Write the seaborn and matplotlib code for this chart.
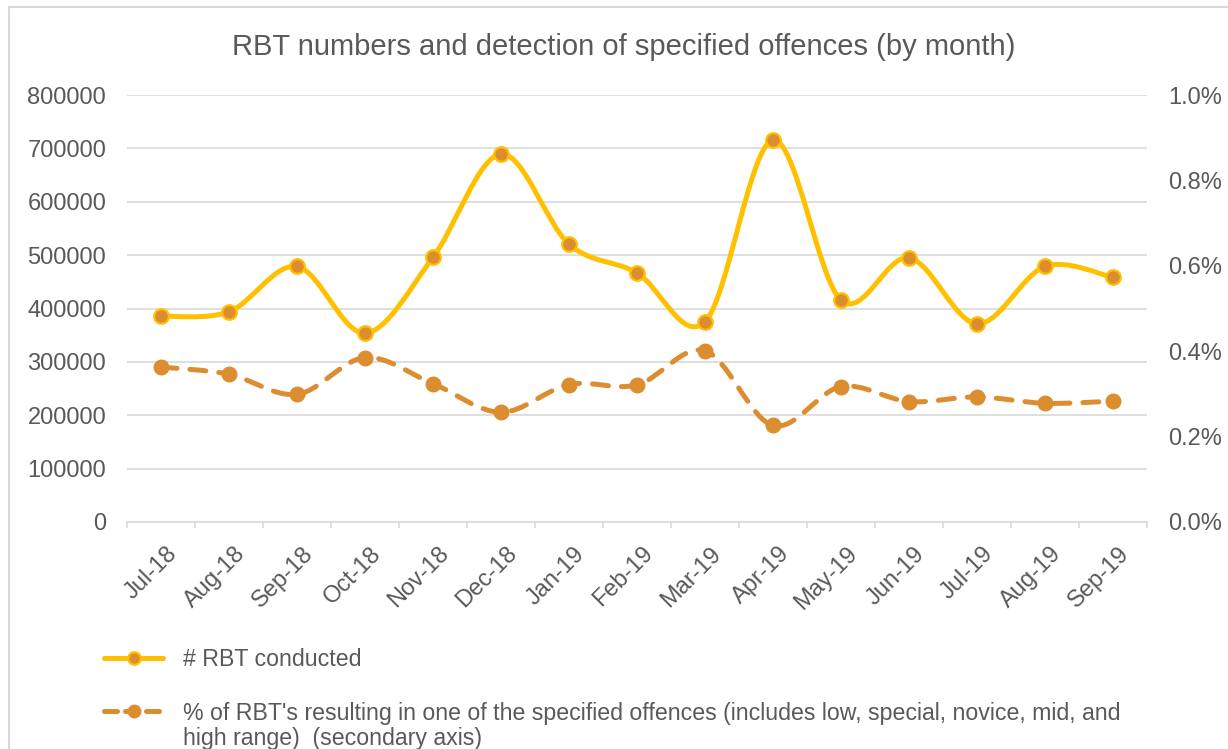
"""RBT numbers and detection of specified offences, by month."""

import matplotlib.pyplot as plt
import numpy as np
import seaborn as sns
from matplotlib.lines import Line2D
from matplotlib.patches import PathPatch, Rectangle
from matplotlib.path import Path
from matplotlib.ticker import FuncFormatter, MultipleLocator
from matplotlib.transforms import ScaledTranslation

months = [
    "Jul-18", "Aug-18", "Sep-18", "Oct-18", "Nov-18", "Dec-18", "Jan-19", "Feb-19",
    "Mar-19", "Apr-19", "May-19", "Jun-19", "Jul-19", "Aug-19", "Sep-19",
]
rbt_conducted = [
    385600, 393800, 478700, 353800, 496000, 689300, 520600, 466800,
    375000, 715600, 415600, 495000, 371300, 478800, 458400,
]
# percent of RBTs resulting in a specified offence (secondary axis)
offence_pct = [
    0.363, 0.346, 0.299, 0.385, 0.324, 0.257, 0.322, 0.321,
    0.401, 0.226, 0.317, 0.282, 0.293, 0.278, 0.283,
]

YELLOW = "#FFC000"
ORANGE = "#DC8D30"
GREY_TEXT = "#595959"
GRID = "#D9D9D9"
DASH = (0, (3.2, 2.6))


def smooth_path(xs, ys):
    """Excel-style smoothed line: cubic Bezier through every point."""
    pts = np.column_stack([xs, ys]).astype(float)
    n = len(pts)
    verts = [pts[0]]
    codes = [Path.MOVETO]
    for i in range(n - 1):
        p0 = pts[max(i - 1, 0)]
        p1 = pts[i]
        p2 = pts[i + 1]
        p3 = pts[min(i + 2, n - 1)]
        verts += [p1 + (p2 - p0) / 6, p2 - (p3 - p1) / 6, p2]
        codes += [Path.CURVE4] * 3
    return Path(verts, codes)


sns.set_theme(style="white")
plt.rcParams["font.family"] = ["Liberation Sans", "DejaVu Sans"]
plt.rcParams["text.color"] = GREY_TEXT

fig = plt.figure(figsize=(12.28, 7.49), dpi=100)
ax = fig.add_axes([127 / 1228, 1 - 522 / 749, 1020 / 1228, 427 / 749])
ax2 = ax.twinx()

x = np.arange(len(months))

# primary series
ax.add_patch(PathPatch(smooth_path(x, rbt_conducted), fill=False, ec=YELLOW,
                       lw=3.6, capstyle="round", joinstyle="round", zorder=3))
sns.scatterplot(x=x, y=rbt_conducted, ax=ax, s=110, color=ORANGE,
                edgecolor=YELLOW, linewidth=1.6, zorder=4, legend=False)

# secondary series
ax2.add_patch(PathPatch(smooth_path(x, offence_pct), fill=False, ec=ORANGE,
                        lw=3.6, linestyle=DASH, capstyle="round",
                        joinstyle="round", zorder=3))
sns.scatterplot(x=x, y=offence_pct, ax=ax2, s=110, color=ORANGE,
                edgecolor=ORANGE, linewidth=1.0, zorder=4, legend=False)

ax.set_xlim(-0.5, len(months) - 0.5)
ax.set_ylim(0, 800000)
ax.yaxis.set_major_locator(MultipleLocator(100000))
ax2.set_ylim(0, 1.0)
ax2.yaxis.set_major_locator(MultipleLocator(0.2))
ax2.yaxis.set_major_formatter(FuncFormatter(lambda v, _: f"{v:.1f}%"))

ax.set_xticks(x)
ax.set_xticklabels(months, rotation=45, ha="right", rotation_mode="anchor")
ax.set_xticks(np.arange(-0.5, len(months)), minor=True)
ax.tick_params(axis="x", which="major", length=0, pad=12, labelsize=17,
               labelcolor=GREY_TEXT)
ax.tick_params(axis="x", which="minor", length=4.5, width=1.2, color=GRID,
               direction="out", bottom=True)
ax.tick_params(axis="y", length=0, pad=15, labelsize=17, labelcolor=GREY_TEXT)
ax2.tick_params(axis="y", length=0, pad=15, labelsize=17, labelcolor=GREY_TEXT)
shift = ScaledTranslation(0.05, -0.04, fig.dpi_scale_trans)
for lbl in ax.get_xticklabels():
    lbl.set_transform(lbl.get_transform() + shift)

ax.grid(axis="y", color=GRID, lw=1.2)
ax.set_axisbelow(True)
for a in (ax, ax2):
    for side in ("top", "left", "right", "bottom"):
        a.spines[side].set_visible(False)
ax.spines["bottom"].set_visible(True)
ax.spines["bottom"].set_color(GRID)
ax.spines["bottom"].set_linewidth(1.2)
ax.set_xlabel("")
ax.set_ylabel("")
ax2.set_ylabel("")

fig.text(624 / 1228, 1 - 47 / 749,
         "RBT numbers and detection of specified offences (by month)",
         ha="center", va="center", fontsize=21, color=GREY_TEXT)

handles = [
    Line2D([], [], color=YELLOW, lw=3.6, marker="o", markersize=9,
           markerfacecolor=ORANGE, markeredgecolor=YELLOW, markeredgewidth=1.6,
           solid_capstyle="round"),
    Line2D([], [], color=ORANGE, lw=3.6, linestyle=(0, (2.6, 1.6)), marker="o",
           markersize=9, markerfacecolor=ORANGE, markeredgecolor=ORANGE,
           dash_capstyle="round"),
]
labels = [
    "# RBT conducted",
    "% of RBT's resulting in one of the specified offences (includes low, special, novice, mid, and",
]
fig.legend(handles, labels, loc="upper left",
           bbox_to_anchor=(104 / 1228, 1 - 648 / 749), frameon=False,
           fontsize=16.7, handlelength=2.55, handletextpad=0.85,
           labelspacing=1.32, borderpad=0, borderaxespad=0,
           labelcolor=GREY_TEXT)
fig.text(183 / 1228, 1 - 739 / 749, "high range)  (secondary axis)",
         ha="left", va="center", fontsize=16.7, color=GREY_TEXT)

# chart-area border
fig.add_artist(Rectangle((9 / 1228, -0.1), 1.2, 1.1 - 7 / 749,
                         transform=fig.transFigure, fill=False, ec=GRID, lw=1.5))

fig.savefig("out.png", dpi=100)
